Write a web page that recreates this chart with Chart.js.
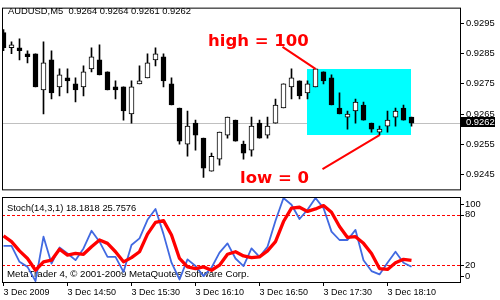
<!DOCTYPE html>
<html>
<head>
<meta charset="utf-8">
<script src="https://cdn.jsdelivr.net/npm/chart.js@4.4.1/dist/chart.umd.min.js"></script>
<style>
  body { margin: 0; background: #fff; }
  #wrap { position: relative; width: 500px; height: 300px; }
  canvas { position: absolute; left: 0; }
</style>
</head>
<body>
<div id="wrap">
  <canvas id="priceChart" width="500" height="197" style="top:0"></canvas>
  <canvas id="stochChart" width="500" height="103" style="top:197px"></canvas>
</div>
<script>
// AUDUSD M5, 3 Dec 2009, 14:10 .. 18:25
const timeLabels = ['3 Dec 2009', '3 Dec 14:50', '3 Dec 15:30', '3 Dec 16:10', '3 Dec 16:50', '3 Dec 17:30', '3 Dec 18:10'];
const timeBars = [0, 8, 16, 24, 32, 40, 48];
const priceTicks = [0.9295, 0.9285, 0.9275, 0.9265, 0.9255, 0.9245];
const stochTicks = [100, 80, 20, 0];
const stochLevels = [80, 20];
const kPeriod = 14;

const opens  = [0.9292, 0.9287, 0.9287, 0.9285, 0.9285, 0.9273, 0.9283, 0.9274, 0.9277, 0.9275,
                0.9274, 0.9280, 0.9283, 0.9279, 0.9274, 0.9274, 0.9265, 0.9275, 0.9277, 0.9283,
                0.9284, 0.9275, 0.9267, 0.9255, 0.9262, 0.9257, 0.9246, 0.9250, 0.9258, 0.9263,
                0.9255, 0.9253, 0.9262, 0.9258, 0.9262, 0.9267, 0.9274, 0.9276, 0.9272, 0.9274,
                0.9279, 0.9277, 0.9267, 0.9264, 0.9266, 0.9268, 0.9262, 0.9259, 0.9261, 0.9264,
                0.9267, 0.9264];
const highs  = [0.9293, 0.9289, 0.9290, 0.9286, 0.9285, 0.9289, 0.9286, 0.9280, 0.9280, 0.9277,
                0.9281, 0.9287, 0.9288, 0.9279, 0.9276, 0.9274, 0.9276, 0.9281, 0.9285, 0.9287,
                0.9285, 0.9277, 0.9267, 0.9266, 0.9263, 0.9257, 0.9252, 0.9259, 0.9264, 0.9263,
                0.9256, 0.9264, 0.9263, 0.9264, 0.9270, 0.9275, 0.9280, 0.9276, 0.9276, 0.9280,
                0.9279, 0.9278, 0.9272, 0.9266, 0.9270, 0.9269, 0.9262, 0.9261, 0.9266, 0.9267,
                0.9268, 0.9264];
const lows   = [0.9286, 0.9285, 0.9283, 0.9282, 0.9274, 0.9265, 0.9270, 0.9271, 0.9272, 0.9269,
                0.9271, 0.9279, 0.9278, 0.9273, 0.9270, 0.9263, 0.9262, 0.9275, 0.9277, 0.9281,
                0.9274, 0.9268, 0.9255, 0.9251, 0.9253, 0.9244, 0.9246, 0.9248, 0.9257, 0.9256,
                0.9250, 0.9251, 0.9257, 0.9257, 0.9262, 0.9267, 0.9270, 0.9270, 0.9270, 0.9274,
                0.9275, 0.9268, 0.9265, 0.9260, 0.9262, 0.9263, 0.9259, 0.9258, 0.9259, 0.9261,
                0.9263, 0.9261];
const closes = [0.9287, 0.9288, 0.9286, 0.9284, 0.9274, 0.9282, 0.9272, 0.9278, 0.9276, 0.9273,
                0.9279, 0.9284, 0.9278, 0.9273, 0.9273, 0.9266, 0.9274, 0.9276, 0.9282, 0.9285,
                0.9276, 0.9268, 0.9256, 0.9261, 0.9258, 0.9247, 0.9251, 0.9259, 0.9264, 0.9256,
                0.9252, 0.9261, 0.9257, 0.9261, 0.9268, 0.9275, 0.9277, 0.9271, 0.9275, 0.9280,
                0.9276, 0.9268, 0.9265, 0.9265, 0.9269, 0.9263, 0.9260, 0.9260, 0.9263, 0.9266,
                0.9263, 0.9262];

// Stoch(14,3,1): main (%K) and signal (%D)
const stochMain   = [43, 43, 24, 18, 1, 54, 22, 41, 34, 26,
                     40, 61, 48, 30, 30, 12, 44, 52, 74, 87,
                     57, 23, 3, 27, 19, 7, 17, 35, 46, 28,
                     19, 40, 30, 42, 73, 100, 92, 75, 86, 100,
                     88, 60, 50, 50, 62, 26, 13, 9, 23, 36,
                     23, 18.1818];
const stochSignal = [55, 48, 37, 28, 14, 24, 26, 39, 32, 34,
                     33, 42, 50, 46, 36, 24, 29, 36, 57, 71,
                     73, 56, 28, 18, 16, 18, 14, 20, 33, 36,
                     31, 29, 30, 37, 48, 72, 88, 89, 84, 87,
                     91, 83, 66, 53, 54, 46, 34, 16, 15, 23,
                     27, 25.7576];

Chart.defaults.font.family = 'Liberation Sans';
Chart.defaults.color = '#000';

const n = closes.length;
const xRange = { min: -0.1875, max: 57.0625 };   // 8 px per bar

// last 14 bars: highest high / lowest low
const winFrom = n - kPeriod;
const winHigh = Math.max(...highs.slice(winFrom));
const winLow = Math.min(...lows.slice(winFrom));
const iHigh = winFrom + highs.slice(winFrom).indexOf(winHigh);
const iLow = winFrom + lows.slice(winFrom).indexOf(winLow);

const priceDecor = {
  id: 'priceDecor',
  beforeDatasetsDraw(chart) {
    const { ctx, chartArea: a, scales: { x, y } } = chart;
    ctx.save();
    // current price line
    const yc = Math.floor(y.getPixelForValue(closes[n - 1])) + 0.5;
    ctx.strokeStyle = '#c0c0c0';
    ctx.lineWidth = 1;
    ctx.beginPath();
    ctx.moveTo(a.left, yc);
    ctx.lineTo(a.right, yc);
    ctx.stroke();
    // stochastic window box
    const x0 = Math.floor(x.getPixelForValue(winFrom));
    const x1 = Math.floor(x.getPixelForValue(n - 1));
    const y0 = Math.round(y.getPixelForValue(winHigh));
    const y1 = Math.round(y.getPixelForValue(winLow));
    ctx.fillStyle = '#00ffff';
    ctx.fillRect(x0, y0, x1 - x0, y1 - y0);
    ctx.restore();
  },
  afterDatasetsDraw(chart) {
    const { ctx, scales: { x, y } } = chart;
    const hx = x.getPixelForValue(iHigh), hy = y.getPixelForValue(winHigh);
    const lx = x.getPixelForValue(iLow), ly = y.getPixelForValue(winLow);
    ctx.save();
    ctx.strokeStyle = '#ff0000';
    ctx.lineWidth = 2;
    ctx.beginPath();
    ctx.moveTo(hx - 33, hy - 22);
    ctx.lineTo(hx, hy);
    ctx.moveTo(lx - 57, ly + 34);
    ctx.lineTo(lx, ly);
    ctx.stroke();
    ctx.fillStyle = '#ff0000';
    ctx.font = 'bold 16.5px "DejaVu Sans"';
    ctx.textBaseline = 'alphabetic';
    ctx.fillText('high = 100', hx - 107.5, hy - 22.5);
    ctx.fillText('low = 0', lx - 139.5, ly + 47.6);
    ctx.restore();
  },
  afterDraw(chart) {
    const { ctx, chartArea: a, scales: { y } } = chart;
    ctx.save();
    ctx.strokeStyle = '#000';
    ctx.lineWidth = 1;
    ctx.strokeRect(a.left + 0.5, a.top + 0.5, a.right - a.left, a.bottom - a.top);
    ctx.fillStyle = '#000';
    ctx.font = '9.4px "Liberation Sans"';
    ctx.textBaseline = 'alphabetic';
    const last = [opens[n - 1], highs[n - 1], lows[n - 1], closes[n - 1]].map(v => v.toFixed(4));
    ctx.fillText('AUDUSD,M5  ' + last.join(' '), 8, 14);
    // current price tag
    const yc = Math.round(y.getPixelForValue(closes[n - 1]));
    ctx.fillRect(461, yc - 6, 34, 10);
    ctx.fillStyle = '#fff';
    ctx.textBaseline = 'middle';
    ctx.fillText(closes[n - 1].toFixed(4), 466, yc - 0.5);
    ctx.restore();
  }
};

new Chart(document.getElementById('priceChart'), {
  type: 'bar',
  data: {
    datasets: [{
      data: opens.map((o, i) => ({ x: i, y: [o, closes[i]] })),
      barThickness: 5,
      grouped: false,
      backgroundColor: opens.map((o, i) => closes[i] >= o ? '#ffffff' : '#000000'),
      borderColor: '#000',
      borderWidth: 1,
      borderSkipped: false
    }, {
      data: highs.map((h, i) => ({ x: i, y: [lows[i], h] })),
      barThickness: 1,
      grouped: false,
      backgroundColor: '#000'
    }]
  },
  options: {
    responsive: false,
    animation: false,
    devicePixelRatio: 1,
    events: [],
    layout: { padding: { top: 2, left: 2, right: 0, bottom: 2 } },
    plugins: { legend: { display: false }, tooltip: { enabled: false } },
    scales: {
      x: { type: 'linear', display: false, offset: false, grid: { offset: false }, min: xRange.min, max: xRange.max },
      y: {
        position: 'right',
        min: 0.9240,
        max: 0.93003125,
        afterBuildTicks: s => { s.ticks = priceTicks.map(v => ({ value: v })); },
        afterFit: s => { s.width = 40; },
        border: { display: false },
        grid: { drawOnChartArea: false, drawTicks: true, tickLength: 4, color: '#000' },
        ticks: { padding: 2, color: '#000', font: { size: 9.4 }, callback: v => v.toFixed(4) }
      }
    }
  },
  plugins: [priceDecor]
});

const stochDecor = {
  id: 'stochDecor',
  beforeDatasetsDraw(chart) {
    const { ctx, chartArea: a, scales: { y } } = chart;
    ctx.save();
    ctx.strokeStyle = '#ff0000';
    ctx.lineWidth = 1;
    ctx.setLineDash([3, 2]);
    stochLevels.forEach(v => {
      const py = Math.round(y.getPixelForValue(v)) + 0.5;
      ctx.beginPath();
      ctx.moveTo(a.left, py);
      ctx.lineTo(a.right, py);
      ctx.stroke();
    });
    ctx.setLineDash([]);
    ctx.fillStyle = '#000';
    ctx.font = '9.4px "Liberation Sans"';
    ctx.fillText('Stoch(14,3,1) ' + stochMain[n - 1].toFixed(4) + ' ' + stochSignal[n - 1].toFixed(4), 7, 13.5);
    ctx.font = '9.7px "Liberation Sans"';
    ctx.fillText('MetaTrader 4, \u00a9 2001-2009 MetaQuotes Software Corp.', 7, 80);
    ctx.restore();
  },
  afterDraw(chart) {
    const { ctx, chartArea: a, scales: { y } } = chart;
    ctx.save();
    ctx.strokeStyle = '#000';
    ctx.lineWidth = 1;
    ctx.strokeRect(a.left + 0.5, a.top - 0.5, a.right - a.left, a.bottom - a.top + 1);
    ctx.fillStyle = '#000';
    ctx.font = '9.4px "Liberation Sans"';
    ctx.textBaseline = 'middle';
    stochTicks.forEach(v => {
      let py = y.getPixelForValue(v);
      if (v === 100) py += 6;
      if (v === 0) py -= 6;
      const ty = Math.round(py) + 0.5;
      ctx.beginPath();
      ctx.moveTo(a.right, ty);
      ctx.lineTo(a.right + 4, ty);
      ctx.stroke();
      ctx.fillText(String(v), a.right + 5, py);
    });
    ctx.restore();
  }
};

new Chart(document.getElementById('stochChart'), {
  type: 'line',
  data: {
    datasets: [{
      data: stochSignal.map((v, i) => ({ x: i, y: v })),
      borderColor: '#ff0000',
      borderWidth: 3.3,
      borderJoinStyle: 'round',
      pointRadius: 0,
      tension: 0
    }, {
      data: stochMain.map((v, i) => ({ x: i, y: v })),
      borderColor: '#4169e1',
      borderWidth: 1.8,
      borderJoinStyle: 'round',
      pointRadius: 0,
      tension: 0
    }]
  },
  options: {
    responsive: false,
    animation: false,
    devicePixelRatio: 1,
    events: [],
    layout: { padding: { top: 1, left: 2, right: 40, bottom: 0 } },
    plugins: { legend: { display: false }, tooltip: { enabled: false } },
    scales: {
      x: {
        type: 'linear',
        min: xRange.min,
        max: xRange.max,
        afterBuildTicks: s => { s.ticks = timeBars.map(v => ({ value: v })); },
        afterFit: s => { s.height = 18; },
        border: { display: false },
        grid: { drawOnChartArea: false, drawTicks: true, tickLength: 4, color: '#000' },
        ticks: {
          align: 'start',
          autoSkip: false,
          maxRotation: 0,
          minRotation: 0,
          padding: 1,
          color: '#000',
          font: { size: 9 },
          callback: v => timeLabels[timeBars.indexOf(v)]
        }
      },
      y: { display: false, min: 0, max: 100 }
    }
  },
  plugins: [stochDecor]
});
</script>
</body>
</html>
